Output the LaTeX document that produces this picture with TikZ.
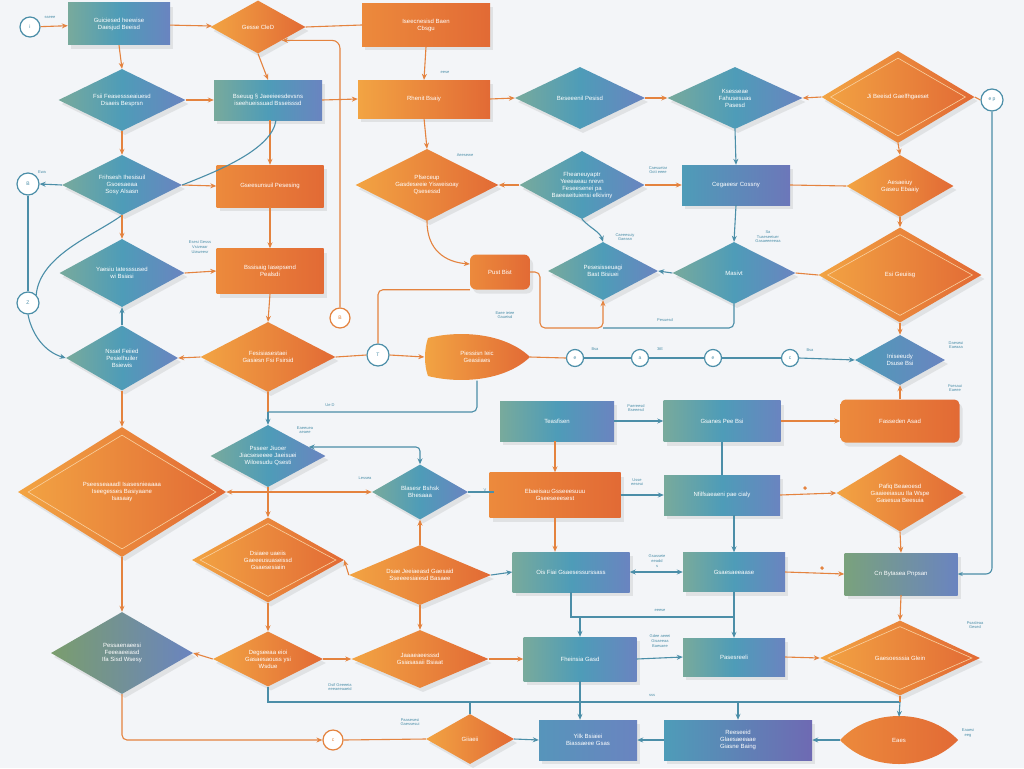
\documentclass[tikz,border=0pt]{standalone}
\usepackage{fontspec}
\setmainfont{Liberation Sans}
\usetikzlibrary{shapes.geometric,arrows.meta,shadows,calc}
\definecolor{ora}{HTML}{F2A443}
\definecolor{orb}{HTML}{EC8A3C}
\definecolor{orc}{HTML}{E26A35}
\definecolor{tla}{HTML}{78AA9C}
\definecolor{tlb}{HTML}{4E9CB8}
\definecolor{tlc}{HTML}{6A84C0}
\definecolor{lno}{HTML}{E4833F}
\definecolor{lnb}{HTML}{4B8EA8}
\definecolor{bgc}{HTML}{F3F5F8}
\begin{document}
\begin{tikzpicture}[x=1pt,y=-1pt,
 shd/.style={drop shadow={opacity=0.16,shadow xshift=3pt,shadow yshift=-4pt}},
 ftxt/.style={text=white,font=\fontsize{6}{7}\selectfont,align=center},
 obox/.style={rectangle,shd,ftxt,left color=orb,right color=orc,inner sep=2pt},
 tbox/.style={rectangle,shd,ftxt,left color=tla,right color=tlc,middle color=tlb,inner sep=2pt},
 odia/.style={diamond,shd,inner sep=0pt,left color=ora,right color=orc},
 tdia/.style={diamond,shd,inner sep=0pt,left color=tla,right color=tlc,middle color=tlb},
 innerline/.style={diamond,draw=white!50!ora,line width=0.6pt,inner sep=0pt},
 circ/.style={circle,draw=lnb,line width=1.2pt,fill=white,inner sep=0pt,minimum size=20pt,text=lnb,font=\fontsize{5}{6}\selectfont},
 ocirc/.style={circ,draw=lno,text=lno},
 oline/.style={draw=lno,line width=1.1pt},
 bline/.style={draw=lnb,line width=1.1pt},
 oarr/.style={oline,-{Stealth[length=6pt,width=5pt]}},
 barr/.style={bline,-{Stealth[length=6pt,width=5pt]}},
 lbl/.style={text=lnb,font=\fontsize{4}{4.6}\selectfont,align=center,inner sep=1pt},
 dot/.style={circle,fill=lno,inner sep=1.4pt},
]
\useasboundingbox (0,0) rectangle (1024,768);
\fill[bgc] (0,0) rectangle (1024,768);

% ---------- circles
\node[circ] (c1) at (30,27) {i};
\node[circ,minimum size=22pt] (c2) at (992,100) {e p};
\node[circ,minimum size=22pt] (c3) at (28,184) {B};
\node[circ,minimum size=22pt] (c4) at (28,303) {Z};
\node[ocirc] (c5) at (340,318) {B};
\node[circ,minimum size=22pt] (c6) at (378,355) {T};
\node[circ,minimum size=17pt] (c7) at (575,358) {e};
\node[circ,minimum size=17pt] (c8) at (640,358) {a};
\node[circ,minimum size=17pt] (c9) at (713,358) {e};
\node[circ,minimum size=17pt] (c10) at (790,358) {c};
\node[ocirc] (c11) at (333,740) {c};

% ---------- rectangles
\node[tbox,minimum width=102,minimum height=42] (r1) at (119,24) {Guiciesed heewise\\Daesjud Beeisd};
\node[obox,minimum width=128,minimum height=43] (r2) at (426,25) {Iseecnesisd Baen\\Cbsgu};
\node[tbox,minimum width=108,minimum height=40] (r3) at (268,100) {Bseuug § Jaeeieesdevsns\\iseehueissuad Bsseisssd};
\node[obox,left color=ora,minimum width=132,minimum height=38] (r4) at (424,99) {Rhenit Bsaiy};
\node[obox,minimum width=107,minimum height=42] (r5) at (270,186) {Gseesunsuil Pesesing};
\node[tbox,left color=tlb,right color=tlc!90!violet,minimum width=108,minimum height=40] (r6) at (736,185) {Cegaeesr Cossny};
\node[obox,minimum width=107,minimum height=45] (r7) at (270,271) {Bssisaig Iasepsend\\Pealsdi};
\node[obox,rounded corners=6pt,minimum width=60,minimum height=35] (r8) at (500,272) {Pust Bist};
\node[tbox,minimum width=114,minimum height=40] (r9) at (557,421) {Teasfisen};
\node[tbox,minimum width=117,minimum height=41] (r10) at (722,421) {Gsanes Pee Bsi};
\node[obox,rounded corners=5pt,minimum width=119,minimum height=43] (r11) at (900,421) {Fasseden Asad};
\node[obox,minimum width=131,minimum height=45] (r12) at (555,495) {Ebaeisau Gsseeesuuu\\Gseeseeesest};
\node[tbox,minimum width=116,minimum height=40] (r13) at (722,495) {Nfilfsaeaeni pae cialy};
\node[tbox,minimum width=117,minimum height=40] (r14) at (571,572) {Ois Fiai Gsaesessurssass};
\node[tbox,minimum width=102,minimum height=39] (r15) at (734,572) {Gsaesaeeaase};
\node[tbox,left color=tla!80!olive,minimum width=113,minimum height=42] (r16) at (901,574) {Cn Bytasea Pnpsan};
\node[tbox,minimum width=113,minimum height=44] (r17) at (580,659) {Fheinsia Gasd};
\node[tbox,minimum width=102,minimum height=38] (r18) at (734,657) {Pasesreeli};
\node[tbox,left color=tlb!70!tlc,minimum width=98,minimum height=40] (r19) at (588,740) {Yilk Bsiaiei\\Biassaeee Gsas};
\node[tbox,left color=tlb,right color=tlc!80!violet,minimum width=148,minimum height=40] (r20) at (738,740) {Reeseeid\\Glaesaeeaae\\Giasne Baing};

% ---------- diamonds
\node[odia,minimum width=95,minimum height=53,label={[ftxt]center:Gesse CleD}] (d1) at (258,27) {};
\node[tdia,minimum width=127,minimum height=62,label={[ftxt]center:{Fsii Feasessseaiuesd\\Dsaeis Besprsn}}] (d2) at (122,100) {};
\node[tdia,minimum width=130,minimum height=62,label={[ftxt]center:Beseeenil Pesisd}] (d3) at (580,98) {};
\node[tdia,minimum width=135,minimum height=62,label={[ftxt]center:{Ksesseae\\Fahusesuas\\Pasesd}}] (d4) at (735,98) {};
\node[odia,minimum width=153,minimum height=92,label={[ftxt]center:Ji Beeisd Gaelfhgaeset}] (d5) at (898,97) {};
\node[innerline,minimum width=135,minimum height=78] at (898,97) {};
\node[tdia,minimum width=120,minimum height=60,label={[ftxt]center:{Frihsesh Ihesisuil\\Gsoesaeaa\\Sosy Alsasn}}] (d6) at (122,185) {};
\node[odia,minimum width=143,minimum height=72,label={[ftxt]center:{Pfseceup\\Gasdeseeie Yisweisoay\\Qsesessd}}] (d7) at (427,185) {};
\node[tdia,minimum width=125,minimum height=68,label={[ftxt]center:{Fheaneuyaptr\\Yeeeaeau nrevn\\Feseesenei pa\\Baeeaeituiensi elkiviny}}] (d8) at (582,185) {};
\node[odia,minimum width=107,minimum height=62,label={[ftxt]center:{Aesaeiuy\\Gaseu Ebaaiy}}] (d9) at (900,186) {};
\node[tdia,minimum width=125,minimum height=68,label={[ftxt]center:{Yaesiu Iatesssused\\wi Bsiasi}}] (d10) at (122,273) {};
\node[tdia,minimum width=110,minimum height=58,label={[ftxt]center:{Pesesisseuagi\\Bast Bisiuei}}] (d11) at (603,271) {};
\node[tdia,minimum width=123,minimum height=62,label={[ftxt]center:Masivt}] (d12) at (734,273) {};
\node[odia,minimum width=163,minimum height=95,label={[ftxt]center:Esi Geuiisg}] (d13) at (900,275) {};
\node[innerline,minimum width=145,minimum height=81] at (900,275) {};
\node[tdia,minimum width=112,minimum height=65,label={[ftxt]center:{Nssel Feiied\\Pesielhuiler\\Bsiewis}}] (d14) at (122,358) {};
\node[odia,minimum width=135,minimum height=70,label={[ftxt]center:{Fesisiasestaei\\Gasiesn Fsi Fsirsid}}] (d15) at (268,357) {};
\node[tdia,left color=tlb,right color=tlc,minimum width=90,minimum height=50,label={[ftxt]center:{Iniseeudy\\Dsuse Bsi}}] (d17) at (900,360) {};
\node[tdia,minimum width=115,minimum height=62,label={[ftxt]center:{Psseer Jiuoer\\Jiacseseeee Jaeisuei\\Wiloesudu Qsesti}}] (d18) at (268,456) {};
\node[odia,minimum width=208,minimum height=130,label={[ftxt]center:{Pseesseaaadl Isasesnieaaaa\\Iseegesses Basiyaane\\Isasaay}}] (d19) at (122,492) {};
\node[innerline,minimum width=188,minimum height=114] at (122,492) {};
\node[tdia,minimum width=96,minimum height=55,label={[ftxt]center:{Blasesr Bshsk\\Bhesaaa}}] (d20) at (420,492) {};
\node[odia,minimum width=152,minimum height=85,label={[ftxt]center:{Dsiaee uaeiis\\Gaeeeusuaseissd\\Gsaesesiaiin}}] (d21) at (268,560) {};
\node[innerline,minimum width=136,minimum height=73] at (268,560) {};
\node[odia,minimum width=127,minimum height=77,label={[ftxt]center:{Pafiq Beaeoesd\\Gaaieeiasuu Ila Wspe\\Gasesua Beesuia}}] (d22) at (900,493) {};
\node[odia,minimum width=142,minimum height=60,label={[ftxt]center:{Dsae Jeeiaeasd Gaesaid\\Sseeeesiaiesd Basaee}}] (d23) at (420,575) {};
\node[tdia,left color=tla!70!olive,minimum width=142,minimum height=82,label={[ftxt]center:{Pessaenaeesi\\Feeeaeeiasd\\Ifa Sisd Wsesy}}] (d24) at (122,653) {};
\node[odia,minimum width=110,minimum height=55,label={[ftxt]center:{Degseeaa eioi\\Gasaesaouss ysi\\Wsdue}}] (d25) at (268,659) {};
\node[odia,minimum width=137,minimum height=58,label={[ftxt]center:{Jaaaeaeesssd\\Gsiasasaii Bsiaat}}] (d26) at (420,659) {};
\node[odia,minimum width=160,minimum height=75,label={[ftxt]center:Gaesoesssia Glein}] (d27) at (900,658) {};
\node[innerline,minimum width=144,minimum height=63] at (900,658) {};
\node[odia,minimum width=88,minimum height=50,label={[ftxt]center:Giiaeii}] (d28) at (470,739) {};

% ---------- lens shapes
\shade[left color=ora,right color=orc] (428,338) .. controls (460,330) and (505,333) .. (530,357) .. controls (505,381) and (460,384) .. (428,376) .. controls (424,365) and (424,350) .. cycle;
\node[ftxt,minimum width=105,minimum height=47] (d16) at (477,357) {Piessisn Ieic\\Geasiiaes};
\shade[left color=orb,right color=orc] (840,740) .. controls (870,708) and (928,708) .. (958,740) .. controls (928,772) and (870,772) .. cycle;
\node[ftxt,minimum width=118,minimum height=46] (d29) at (899,740) {Eaes};

% ---------- labels
\node[lbl] (t1) at (50,17) {sseee};
\node[lbl] (t2) at (445,72) {eese};
\node[lbl] (t3) at (465,155) {Aeesewe};
\node[lbl] (t4) at (42,172) {Ewa};
\node[lbl] (t5) at (658,170) {Caesuetar\\Goti eeee};
\node[lbl] (t6) at (200,247) {Esesi Gesss\\Vsiveaar\\Uiaweesr};
\node[lbl] (t7) at (625,237) {Caeeesuiy\\Gaeasn};
\node[lbl] (t8) at (768,237) {Sa\\Tuaeseeiuer\\Gasaeeeeeaa};
\node[lbl] (t9) at (505,315) {Eaee ieiee\\Gaueisd};
\node[lbl] (t10) at (665,320) {Pesuesd};
\node[lbl] (t11) at (595,349) {Bsa};
\node[lbl] (t12) at (660,349) {3tE};
\node[lbl] (t13) at (810,350) {Bsa};
\node[lbl] (t14) at (956,345) {Daeseui\\Eaeaaa};
\node[lbl] (t15) at (955,388) {Fsesaui\\Eaeee};
\node[lbl] (t16) at (330,405) {Ue D};
\node[lbl] (t17) at (305,430) {Eaeeuea\\aeaee};
\node[lbl] (t18) at (365,478) {Lessea};
\node[lbl] (t19) at (485,490) {V};
\node[lbl] (t20) at (636,408) {Paereesd\\Bseeesd};
\node[lbl] (t21) at (637,482) {Usse\\eeseui};
\node[lbl] (t22) at (657,561) {Gsasseie\\eeadd\\s};
\node[lbl] (t23) at (660,610) {eeese};
\node[lbl] (t24) at (660,641) {Gdee aeeei\\Gisaeeaa\\Baesaee};
\node[lbl] (t25) at (975,625) {Psasleaa\\Gesed};
\node[lbl] (t26) at (340,687) {Dsif Geeeeia\\eeeaeeaaeid};
\node[lbl] (t27) at (410,722) {Paasesesi\\Gaessesui};
\node[lbl] (t28) at (652,695) {sss};
\node[lbl] (t29) at (968,733) {Eaaesi\\eeg};

% ---------- junction coordinates
\coordinate (j2) at (540,328);
\coordinate (j3) at (603,328);
\coordinate (j4) at (268,412);
\coordinate (j5) at (571,617);
\coordinate (j6) at (580,617);
\coordinate (j7) at (734,617);
\coordinate (k1) at (268,702);
\coordinate (k2) at (900,702);
\coordinate (v1) at (494,492);
\node[dot] (m1) at (805,488) {};
\node[dot] (m2) at (822,568) {};

% ---------- connectors
\draw[oarr] (c1) -- (r1);
\draw[oarr] (r1) -- (d1);
\draw[oline] (d1.east) -- (r2.west);
\draw[oarr] (r1.south) -- (d2.north);
\draw[oarr] (d1.south) -- (r3.north);
\draw[oarr] (d2.east) -- (r3.west);
\draw[oarr] (r2.south) -- (r4.north);
\draw[oarr] (r3.east) -- (r4.west);
\draw[oarr] (r4.east) -- (d3.west);
\draw[oarr] (d3.east) -- (d4.west);
\draw[oarr] (d5.west) -- (d4.east);
\draw[oline] (d5.east) -- (c2.west);
\draw[oarr,rounded corners=8pt] (c5.north) |- (d1.south east);
\draw[oarr] (d2.south) -- (d6.north);
\draw[oarr] (d6.east) -- (r5.west);
\draw[oarr] (r3.south -| r5.north) -- (r5.north);
\draw[bline] ([xshift=8pt]r3.south) .. controls (272,150) and (215,172) .. (d6.east);
\draw[barr] (d6.west) -- (c3.east);
\draw[oarr] (r4.south) -- (d7.north);
\draw[oarr] (d8.west) -- (d7.east);
\draw[oarr] (d8.east) -- (r6.west);
\draw[barr] (d4.south) -- (r6.north);
\draw[oline] (r6.east) -- (d9.west);
\draw[oarr] (d5.south) -- (d9.north);
\draw[bline,-{Stealth[length=5pt,width=4pt]},rounded corners=6pt] (c2.south) |- (r16.east);
\draw[bline] (c3.south) -- (c4.north);
\draw[bline] (d6.south) .. controls (95,235) and (40,255) .. (c4.north east);
\draw[barr] (c4.south) .. controls (32,335) and (45,352) .. (d14.west);
\draw[oarr] (d6.south) -- (d10.north);
\draw[barr] (d14.north) -- (d10.south);
\draw[oarr] (d10.east) -- (r7.west);
\draw[oarr] (r5.south) -- (r7.north);
\draw[oarr] (r7.south) -- (d15.north);
\draw[oarr] (d15.west) -- (d14.east);
\draw[oline] (d15.east) -- (c6.west);
\draw[oarr] (c6.east) -- (d16.west);
\draw[oline,rounded corners=5pt] (c6.north) |- (r8.south west);
\draw[oarr] (d7.south) .. controls (427,250) and (445,262) .. ([yshift=8pt]r8.west);
\draw[barr] (d8.south) .. controls (590,228) and (600,232) .. (d11.north);
\draw[barr] (r6.south) -- (d12.north);
\draw[barr] (d12.west) -- (d11.east);
\draw[oline] (d12.east) -- (d13.west);
\draw[oarr] (d9.south) -- (d13.north);
\draw[oarr,rounded corners=5pt] (r8.east) -| (j2) -- (j3) -- (d11.south);
\draw[bline,rounded corners=5pt] (d12.south) |- (j3);
\draw[oline] (d16.east) -- (c7.west);
\draw[bline] (c7.east) -- (c8.west);
\draw[bline] (c8.east) -- (c9.west);
\draw[bline] (c9.east) -- (c10.west);
\draw[barr] (c10.east) -- (d17.west);
\draw[oarr] (d13.south) -- (d17.north);
\draw[oarr] (r11.north) -- (d17.south);
\draw[oline] (d15.south) -- (j4);
\draw[bline,rounded corners=5pt] (d16.south) |- (j4);
\draw[barr] (j4) -- (d18.north);
\draw[bline,{Stealth[length=6pt,width=5pt]}-{Stealth[length=6pt,width=5pt]},rounded corners=4pt] ($(d18.east)+(-17,-9)$) -| (d20.north);
\draw[oline,{Stealth[length=6pt,width=5pt]}-{Stealth[length=6pt,width=5pt]}] (d19.east) -- (d20.west);
\draw[oarr] (d18.south) -- (d21.north);
\draw[oarr] (d14.south) -- (d19.north);
\draw[bline] (d20.east) -- (v1);
\draw[oarr] (d23.north) -- (d20.south);
\draw[oarr] (d23.west) -- (d21.east);
\draw[barr] (d23.east) -- (r14.west);
\draw[barr] (r9.east) -- (r10.west);
\draw[oarr] (r10.east) -- (r11.west);
\draw[oarr] (r9.south -| r12.north) -- (r12.north);
\draw[bline] (r10.south) -- (r13.north);
\draw[barr] (r12.east) -- (r13.west);
\draw[oarr] (r13.east) -- (d22.west);
\draw[oarr] (r12.south) -- (r12.south |- r14.north);
\draw[barr] (r13.south -| r15.north) -- (r15.north);
\draw[bline,{Stealth[length=6pt,width=5pt]}-{Stealth[length=6pt,width=5pt]}] (r14.east) -- (r15.west);
\draw[oarr] (r15.east) -- (r16.west);
\draw[oarr] (d22.south) -- (r16.north);
\draw[oarr] (d19.south) -- (d24.north);
\draw[oarr] (d21.south) -- (d25.north);
\draw[oarr] (d25.west) -- (d24.east);
\draw[oarr] (d25.east) -- (d26.west);
\draw[oarr] (d23.south) -- (d26.north);
\draw[oarr] (d26.east) -- (r17.west);
\draw[bline] (r14.south) -- (j5) -- (j7);
\draw[barr] (j6) -- (r17.north);
\draw[barr] (r15.south) -- (r18.north);
\draw[barr] (r17.east) -- (r18.west);
\draw[oarr] (r18.east) -- (d27.west);
\draw[oarr] (r16.south) -- (d27.north);
\draw[bline] (d25.south) -- (k1) -- (k2);
\draw[barr] (k2) -- (d29.north);
\draw[oline] (d27.south) -- (k2);
\draw[barr] (r17.south) -- (r17.south |- r19.north);
\draw[barr] (r20.north |- k1) -- (r20.north);
\draw[bline] (d28.north) -- (d28.north |- k1);
\draw[oarr,rounded corners=5pt] (d24.south) |- (c11.west);
\draw[oline] (c11.east) -- (d28.west);
\draw[barr] (d28.east) -- (r19.west);
\draw[barr] (r20.west) -- (r19.east);
\draw[barr] (d29.west) -- (r20.east);
\end{tikzpicture}
\end{document}
